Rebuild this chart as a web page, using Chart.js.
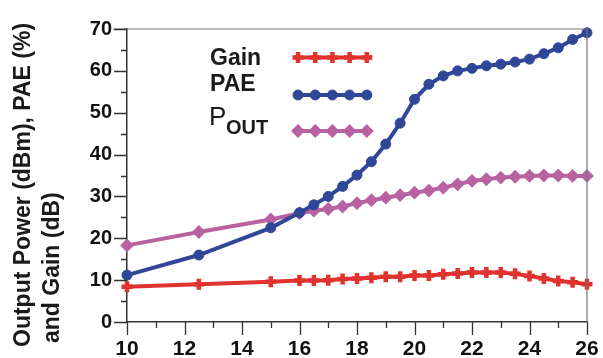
<!DOCTYPE html>
<html>
<head>
<meta charset="utf-8">
<script src="https://cdn.jsdelivr.net/npm/chart.js@4"></script>
<style>
  html, body { margin: 0; padding: 0; background: #fff; }
  canvas { display: block; }
</style>
</head>
<body>
<canvas id="c" width="603" height="358"></canvas>
<script>
// input power sweep (dBm)
const xs = [10, 12.5, 15, 16, 16.5, 17, 17.5, 18, 18.5, 19, 19.5, 20, 20.5, 21, 21.5, 22, 22.5, 23, 23.5, 24, 24.5, 25, 25.5, 26];
const gain = [8.4, 9.0, 9.6, 9.9, 9.9, 10.0, 10.3, 10.4, 10.6, 10.8, 10.8, 11.1, 11.1, 11.4, 11.6, 11.8, 11.8, 11.8, 11.5, 11.0, 10.4, 9.8, 9.5, 9.0];
const pae = [11.2, 16.0, 22.5, 26.1, 28.0, 30.0, 32.4, 35.1, 38.3, 42.5, 47.5, 53.2, 56.8, 58.8, 60.0, 60.6, 61.2, 61.6, 62.1, 62.8, 64.1, 65.5, 67.5, 69.1];
const pout = [18.3, 21.5, 24.5, 26.0, 26.6, 27.0, 27.6, 28.4, 29.1, 29.7, 30.3, 30.9, 31.4, 32.1, 32.9, 33.7, 34.1, 34.5, 34.7, 34.9, 35.0, 35.0, 34.9, 34.9];

const xTicks = [10, 12, 14, 16, 18, 20, 22, 24, 26];
const yTicks = [0, 10, 20, 30, 40, 50, 60, 70];

const RED = '#e0332e', BLUE = '#2f4796', PINK = '#b862a2';
const pts = (ys) => xs.map((x, i) => ({ x: x, y: ys[i] }));

// ticks, frame, axis title and the hand-drawn legend
const decor = {
    id: 'decor',
    afterDraw(chart) {
        const ctx = chart.ctx, a = chart.chartArea;
        const xs_ = chart.scales.x, ys_ = chart.scales.y;
        ctx.save();
        // top + right frame
        ctx.strokeStyle = '#777';
        ctx.lineWidth = 1.2;
        ctx.beginPath();
        ctx.moveTo(a.left - 14, a.top); ctx.lineTo(a.right, a.top); ctx.lineTo(a.right, a.bottom);
        ctx.stroke();
        // tick marks
        ctx.strokeStyle = '#333';
        ctx.lineWidth = 1.3;
        ctx.beginPath();
        for (let v = 0; v <= 70; v += 5) {
            const y = Math.round(ys_.getPixelForValue(v)) + 0.5;
            ctx.moveTo(a.left - (v % 10 === 0 ? 13 : 6), y); ctx.lineTo(a.left, y);
        }
        for (let v = 10; v <= 26; v += 1) {
            const x = Math.round(xs_.getPixelForValue(v)) + 0.5;
            ctx.moveTo(x, a.bottom); ctx.lineTo(x, a.bottom + (v % 2 === 0 ? 13 : 6));
        }
        ctx.stroke();

        // y axis title (two lines, bottom aligned)
        ctx.fillStyle = '#1a1a1a';
        ctx.font = 'bold 23px "Liberation Sans", Arial, sans-serif';
        ctx.textAlign = 'left';
        ctx.textBaseline = 'alphabetic';
        [['Output Power (dBm), PAE (%)', 30, 347], ['and Gain (dB)', 59, 343]].forEach(([t, bx, by]) => {
            ctx.save();
            ctx.translate(bx, by);
            ctx.rotate(-Math.PI / 2);
            ctx.fillText(t, 0, 0);
            ctx.restore();
        });

        // legend
        ctx.font = 'bold 23px "Liberation Sans", Arial, sans-serif';
        ctx.fillText('Gain', 210, 65);
        ctx.fillText('PAE', 210, 91);
        ctx.font = '26px "Liberation Sans", Arial, sans-serif';
        ctx.fillText('P', 209, 125);
        ctx.font = 'bold 20px "Liberation Sans", Arial, sans-serif';
        ctx.fillText('OUT', 226, 134);

        const ds = chart.data.datasets;
        [[0, 57.5], [1, 95], [2, 131]].forEach(([k, y]) => {
            const d = ds[k];
            ctx.strokeStyle = d.borderColor;
            ctx.fillStyle = d.pointBackgroundColor;
            ctx.lineWidth = 4;
            ctx.beginPath();
            ctx.moveTo(294, y); ctx.lineTo(372, y);
            ctx.stroke();
            ctx.strokeStyle = d.pointBorderColor;
            ctx.lineWidth = d.pointBorderWidth;
            for (let i = 0; i < 5; i++) {
                Chart.helpers.drawPoint(ctx, { pointStyle: d.pointStyle, radius: d.pointRadius, borderWidth: d.pointBorderWidth, rotation: 0 }, 298 + i * 17.2, y);
            }
        });
        ctx.restore();
    }
};

new Chart(document.getElementById('c'), {
    type: 'line',
    data: {
        datasets: [
            {
                label: 'Gain', data: pts(gain), borderColor: RED, borderWidth: 4,
                pointStyle: 'cross', pointRadius: 5.5, pointBorderWidth: 4.5,
                pointBorderColor: RED, pointBackgroundColor: RED
            },
            {
                label: 'PAE', data: pts(pae), borderColor: BLUE, borderWidth: 4,
                pointStyle: 'circle', pointRadius: 5, pointBorderWidth: 1,
                pointBorderColor: BLUE, pointBackgroundColor: BLUE
            },
            {
                label: 'POUT', data: pts(pout), borderColor: PINK, borderWidth: 4,
                pointStyle: 'rectRot', pointRadius: 5.5, pointBorderWidth: 2,
                pointBorderColor: PINK, pointBackgroundColor: PINK
            }
        ]
    },
    options: {
        responsive: false,
        animation: false,
        clip: false,
        layout: { padding: { left: 0, top: 29, right: 16, bottom: 0 } },
        plugins: { legend: { display: false }, tooltip: { enabled: false } },
        elements: { line: { tension: 0 } },
        scales: {
            x: {
                type: 'linear', min: xTicks[0], max: xTicks[xTicks.length - 1],
                afterBuildTicks: (s) => { s.ticks = xTicks.map(v => ({ value: v })); },
                afterFit: (s) => { s.height = 36; s.paddingLeft = 0; s.paddingRight = 0; },
                grid: { display: false, drawTicks: false },
                border: { display: true, color: '#333', width: 1.5 },
                ticks: { padding: 15, color: '#111', font: { family: '"Liberation Sans", Arial, sans-serif', size: 21, weight: 'bold' } }
            },
            y: {
                min: yTicks[0], max: yTicks[yTicks.length - 1],
                afterBuildTicks: (s) => { s.ticks = yTicks.map(v => ({ value: v })); },
                afterFit: (s) => { s.width = 127; s.paddingTop = 0; s.paddingBottom = 0; },
                grid: { display: false, drawTicks: false },
                border: { display: true, color: '#333', width: 1.5 },
                ticks: { padding: 15, color: '#111', font: { family: '"Liberation Sans", Arial, sans-serif', size: 20, weight: 'bold' } }
            }
        }
    },
    plugins: [decor]
});
</script>
</body>
</html>
